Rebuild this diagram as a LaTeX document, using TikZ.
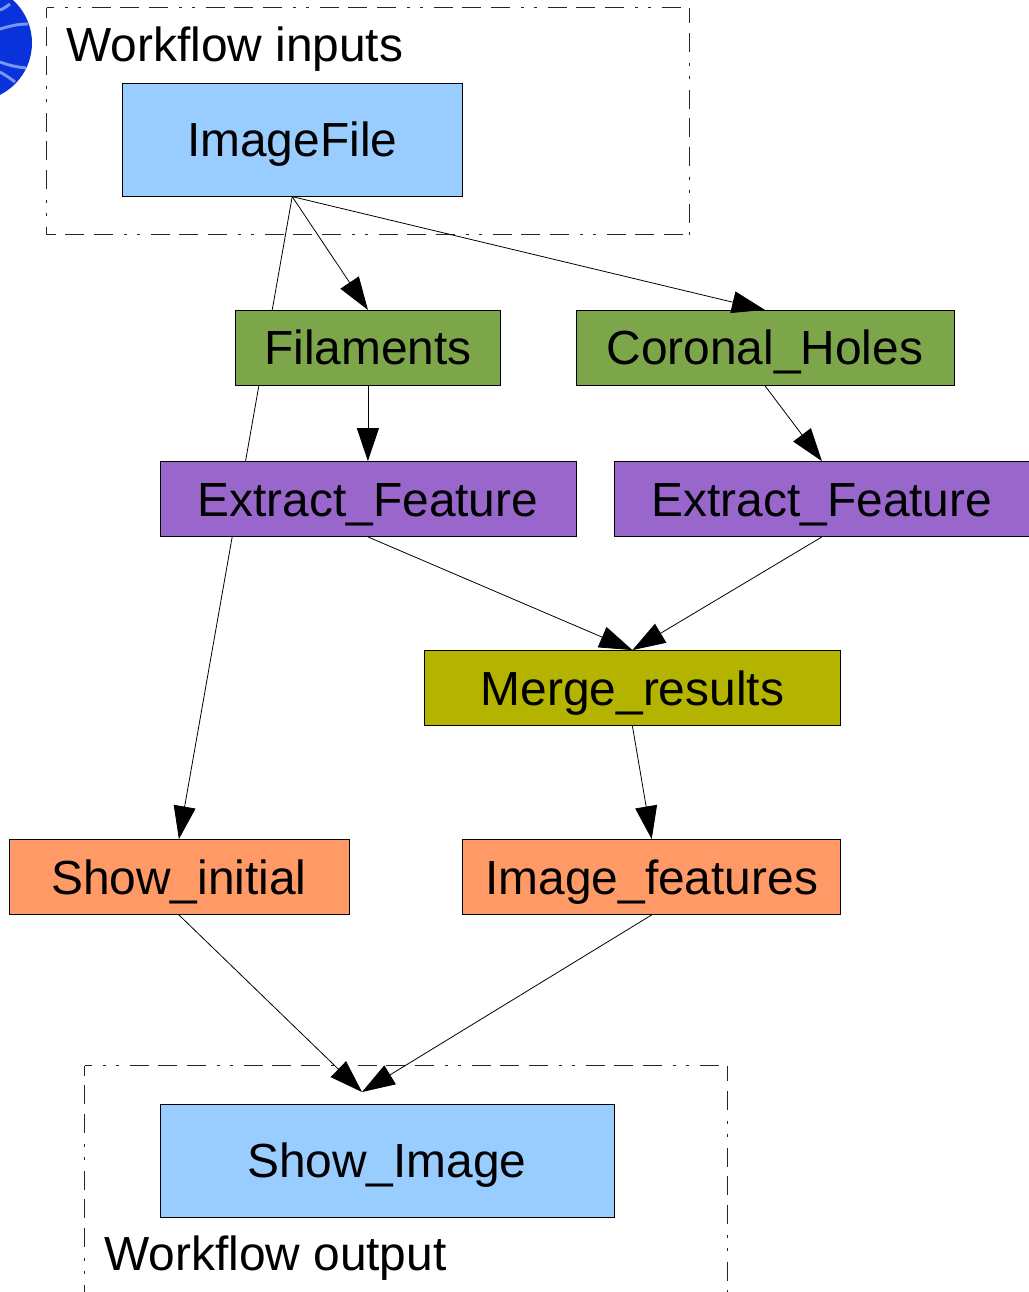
\documentclass[tikz,border=0pt]{standalone}
\usepackage{fontspec}
\setmainfont{Liberation Sans}
\usetikzlibrary{arrows.meta,backgrounds}
\definecolor{inblue}{HTML}{99CCFF}
\definecolor{stepgreen}{HTML}{7DA64B}
\definecolor{steppurple}{HTML}{9966CC}
\definecolor{stepolive}{HTML}{B3B300}
\definecolor{steporange}{HTML}{FF9966}
\definecolor{logoblue}{HTML}{0A32DC}
\definecolor{logoline}{HTML}{7A96F0}
\tikzset{
  x=0.75pt,y=-0.75pt,
  boxnode/.style={draw=black,line width=0.6pt,inner sep=0pt,font=\fontsize{35.9}{40}\selectfont,text=black,anchor=center,text height=25.5pt,text depth=0pt},
  inputbox/.style={boxnode,fill=inblue},
  greenbox/.style={boxnode,fill=stepgreen},
  purplebox/.style={boxnode,fill=steppurple},
  olivebox/.style={boxnode,fill=stepolive},
  orangebox/.style={boxnode,fill=steporange},
  conn/.style={line width=0.6pt,-{Triangle[length=24.7pt,width=16.5pt]}},
  frameline/.style={line width=0.7pt,black!85},
  framedash/.style={dash pattern=on 14.25pt off 7.125pt on 14.25pt off 7.125pt on 14.25pt off 8.25pt on 2.25pt off 7.5pt on 2.25pt off 8.25pt,dash phase=#1},
  labeltext/.style={font=\fontsize{35.9}{40}\selectfont,anchor=base west,inner sep=0pt},
}
\begin{document}
\begin{tikzpicture}
\useasboundingbox (0,0) rectangle (1028,1292);
\begin{scope}
\clip (0,0) rectangle (1028,1292);
\fill[logoblue] (-26,43) circle (58);
\draw[logoline,line width=2.2pt] (0,29) .. controls (10,26) and (18,24) .. (28,24);
\draw[logoline,line width=2.2pt] (0,62) .. controls (8,65) and (16,67) .. (26,68);
\draw[logoline,line width=2.2pt] (0,72) .. controls (5,75) and (10,78) .. (15,82);
\draw[logoline,line width=2.2pt] (0,10) .. controls (3,9) and (6,7) .. (10,4);
% input frame
\draw[frameline,framedash=51.75pt] (46.7,7.7) -- (689,7.7);
\draw[frameline,framedash=6.75pt] (46.7,7.7) -- (46.7,234.6);
\draw[frameline,framedash=24pt] (689,7.7) -- (689,234.6);
\draw[frameline,framedash=7.5pt] (46.7,234.6) -- (689,234.6);
% output frame
\draw[frameline,framedash=51.75pt] (84.7,1065.7) -- (727,1065.7);
\draw[frameline,framedash=6.75pt] (84.7,1065.7) -- (84.7,1292);
\draw[frameline,framedash=24pt] (727,1065.7) -- (727,1292);
\end{scope}
\node[labeltext] (inlabel) at (66,61) {Workflow inputs};
\node[labeltext] (outlabel) at (104,1270) {Workflow output};
\node[inputbox,minimum width=340*0.75pt,minimum height=113*0.75pt] (imagefile) at (292.2,139.7) {ImageFile};
\node[greenbox,minimum width=264.5*0.75pt,minimum height=75*0.75pt] (filaments) at (367.9,347.8) {Filaments};
\node[greenbox,minimum width=378*0.75pt,minimum height=75*0.75pt] (coronal) at (764.9,347.8) {Coronal\_Holes};
\node[purplebox,minimum width=416*0.75pt,minimum height=75*0.75pt] (extracta) at (367.9,499) {Extract\_Feature};
\node[purplebox,minimum width=416*0.75pt,minimum height=75*0.75pt] (extractb) at (821.9,499) {Extract\_Feature};
\node[olivebox,minimum width=416*0.75pt,minimum height=75*0.75pt] (merge) at (632.4,688) {Merge\_results};
\node[orangebox,minimum width=340*0.75pt,minimum height=75*0.75pt] (showinit) at (178.9,877) {Show\_initial};
\node[orangebox,minimum width=378*0.75pt,minimum height=75*0.75pt] (imgfeat) at (651.7,877) {Image\_features};
\node[inputbox,minimum width=454*0.75pt,minimum height=113*0.75pt] (showimage) at (386.9,1160.5) {Show\_Image};
\coordinate (outport) at (362,1092);
\begin{scope}[on background layer]
\draw[conn] (imagefile.south) -- (showinit.north);
\end{scope}
\draw[conn] (imagefile.south) -- (filaments.north);
\draw[conn] (imagefile.south) -- (coronal.north);
\draw[conn] (filaments.south) -- (extracta.north);
\draw[conn] (coronal.south) -- (extractb.north);
\draw[conn] (extracta.south) -- (merge.north);
\draw[conn] (extractb.south) -- (merge.north);
\draw[conn] (merge.south) -- (imgfeat.north);
\draw[conn] (showinit.south) -- (outport);
\draw[conn] (imgfeat.south) -- (outport);
\end{tikzpicture}
\end{document}
